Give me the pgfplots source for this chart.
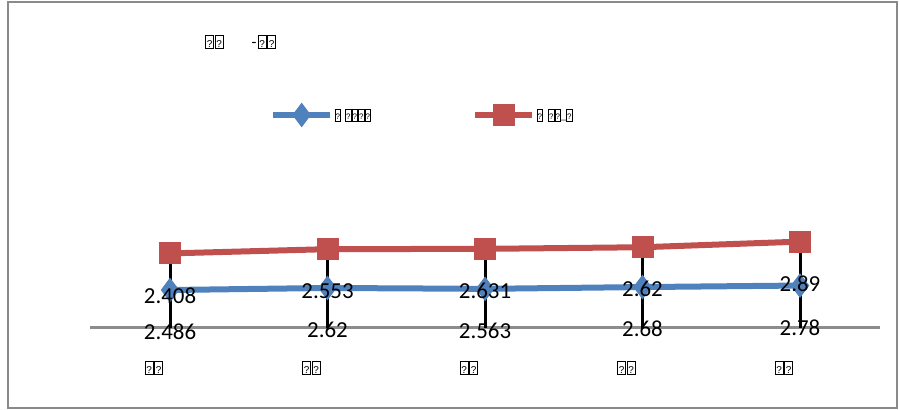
\documentclass[border=0pt]{standalone}
\usepackage{fontspec}
\setmainfont{Carlito}
\newfontfamily\tofufont{Liberation Sans}
\usepackage{pgfplots}
\pgfplotsset{compat=1.18}
\definecolor{serA}{HTML}{4F81BD}
\definecolor{serB}{HTML}{C0504D}
\definecolor{framegray}{HTML}{8A8A8A}
\definecolor{axgray}{HTML}{8C8C8C}
% missing-glyph boxes as in the reference: width, height, size of the ?
\newcommand\tofu[3]{{\setlength\fboxsep{0pt}\setlength\fboxrule{0.8bp}\framebox[#1][c]{\rule[-1bp]{0pt}{#2}\tofufont\fontsize{#3}{#3}\selectfont ?}}}
\newcommand\tb{\tofu{9bp}{13bp}{10}}
\newcommand\ts{\tofu{6.5bp}{11bp}{8}}
\begin{document}
\begin{tikzpicture}
\path[use as bounding box] (0,0) rectangle (899bp,410bp);
\draw[framegray, line width=1.5bp] (8bp,2bp) rectangle (897bp,408bp);
\node[anchor=west, inner sep=0pt] at (205bp,368bp) {\tb\hspace{0.5bp}\tb\hspace{28bp}{\fontsize{16}{16}\selectfont -}\hspace{1bp}\tb\hspace{0.5bp}\tb};
\begin{axis}[
  at={(90bp,67bp)}, anchor=south west,
  scale only axis, width=790bp, height=182.4bp,
  xmin=-0.508, xmax=4.508, ymin=-1, ymax=11,
  axis line style={draw=none},
  ytick=\empty,
  xtick={0,1,2,3,4},
  xticklabels={\tb\hspace{0.5bp}\tb,\tb\hspace{0.5bp}\tb,\tb\hspace{0.5bp}\tb,\tb\hspace{0.5bp}\tb,\tb\hspace{0.5bp}\tb},
  xticklabel style={anchor=north, yshift=-14bp, xshift=-16bp},
  major tick length=0pt,
  extra y ticks={0}, extra y tick labels={},
  extra y tick style={grid=major, major grid style={draw=axgray, line width=3bp}},
  clip=false,
  legend columns=2,
  legend style={draw=none, fill=none, at={(0.2278,1.25)}, anchor=west, inner sep=0pt,
     nodes={inner sep=1.5bp, anchor=west}, column sep=0pt},
  legend image code/.code={\draw[mark repeat=2, mark phase=2, #1] plot coordinates {(0bp,0bp) (28.5bp,0bp) (57bp,0bp)};},
]
\addplot[serA, line width=6bp, mark=diamond*, mark size=11.5bp, mark options={solid, line width=1bp}]
  coordinates {(0,2.486) (1,2.62) (2,2.563) (3,2.68) (4,2.78)};
\addlegendentry{\makebox[136bp][l]{\ts\hspace{4bp}\ts\ts\ts\ts}}
\addplot[serB, line width=6bp, mark=square*, mark size=10.5bp, mark options={solid, line width=1bp}]
  coordinates {(0,4.894) (1,5.173) (2,5.194) (3,5.300) (4,5.670)};
\addlegendentry{\ts\hspace{5bp}\ts\ts\_\ts}
% drop lines
\addplot[ycomb, black, line width=3bp, no marks, forget plot]
  coordinates {(0,4.894) (1,5.173) (2,5.194) (3,5.300) (4,5.670)};
% data labels
\addplot[draw=none, no marks, forget plot, point meta=explicit symbolic, nodes near coords,
  nodes near coords style={anchor=center, yshift=-42bp, font=\fontsize{23}{23}\selectfont, text=black}]
  coordinates {(0,4.894)[2.408] (1,5.173)[2.553] (2,5.194)[2.631] (3,5.300)[2.62] (4,5.670)[2.89]};
\addplot[draw=none, no marks, forget plot, point meta=explicit symbolic, nodes near coords,
  nodes near coords style={anchor=center, yshift=-42bp, font=\fontsize{23}{23}\selectfont, text=black}]
  coordinates {(0,2.486)[2.486] (1,2.62)[2.62] (2,2.563)[2.563] (3,2.68)[2.68] (4,2.78)[2.78]};
\end{axis}
\end{tikzpicture}
\end{document}
